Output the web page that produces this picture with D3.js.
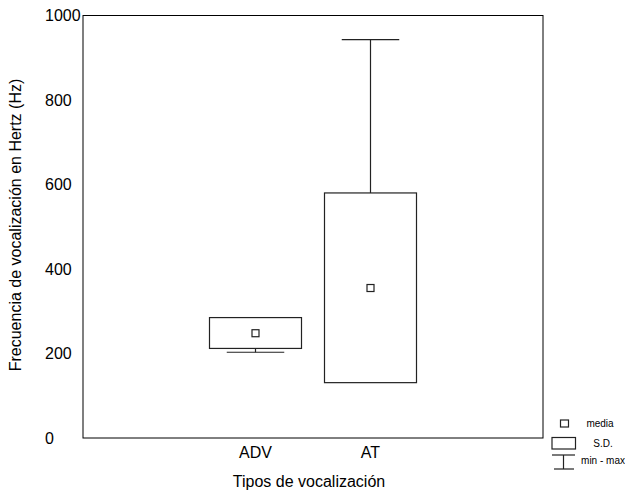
<!DOCTYPE html>
<html>
<head>
<meta charset="utf-8">
<script src="https://cdn.jsdelivr.net/npm/d3@7/dist/d3.min.js"></script>
<style>
  html, body { margin: 0; padding: 0; background: #fff; }
  svg { display: block; font-family: "Liberation Sans", Arial, sans-serif; }
</style>
</head>
<body>
<svg id="chart" width="625" height="497"></svg>
<script>
// Vocalization frequency per call type: mean, mean ± S.D. box, min/max whiskers
const categories = ["ADV", "AT"];
const means = [248, 355];
const sdLow = [212, 131];
const sdHigh = [285, 580];
const mins = [203, null];   // whisker only drawn when it reaches past the box
const maxs = [null, 943];
const yTicks = [0, 200, 400, 600, 800, 1000];

const svg = d3.select("#chart");
const plotLeft = 83, plotRight = 543, plotTop = 15.5, plotBottom = 438;

const x = d3.scalePoint().domain(categories).range([plotLeft, plotRight]).padding(1.5);
const y = d3.scaleLinear().domain([0, 1000]).range([plotBottom, plotTop]);
const step = x.step();
const boxW = step * 0.8;
const capW = step * 0.5;

// Frame
svg.append("rect")
  .attr("x", plotLeft).attr("y", plotTop)
  .attr("width", plotRight - plotLeft).attr("height", plotBottom - plotTop)
  .attr("fill", "none").attr("stroke", "#000").attr("stroke-width", 1);

// Y tick labels (left aligned, no tick marks)
svg.append("g").selectAll("text").data(yTicks).join("text")
  .attr("x", 45).attr("y", d => y(d))
  .attr("dy", "0.35em")
  .attr("font-size", 16)
  .text(d => d);

// X category labels
svg.append("g").selectAll("text").data(categories).join("text")
  .attr("x", d => x(d)).attr("y", 458)
  .attr("text-anchor", "middle")
  .attr("font-size", 16)
  .text(d => d);

// Axis titles
svg.append("text")
  .attr("x", 309).attr("y", 487)
  .attr("text-anchor", "middle").attr("font-size", 16)
  .text("Tipos de vocalización");
svg.append("text")
  .attr("transform", "translate(21,225) rotate(-90)")
  .attr("text-anchor", "middle").attr("font-size", 16)
  .text("Frecuencia de vocalización en Hertz (Hz)");

const stroke = "#222";
const groups = svg.append("g").selectAll("g").data(categories).join("g");

// Whiskers: from box edge out to the extreme value
groups.each(function(c, i) {
  const g = d3.select(this);
  const cx = x(c);
  if (maxs[i] != null && maxs[i] > sdHigh[i]) {
    g.append("line").attr("x1", cx).attr("x2", cx)
      .attr("y1", y(sdHigh[i])).attr("y2", y(maxs[i]))
      .attr("stroke", stroke).attr("stroke-width", 1.2);
    g.append("line").attr("x1", cx - capW / 2).attr("x2", cx + capW / 2)
      .attr("y1", y(maxs[i])).attr("y2", y(maxs[i]))
      .attr("stroke", stroke).attr("stroke-width", 1.2);
  }
  if (mins[i] != null && mins[i] < sdLow[i]) {
    g.append("line").attr("x1", cx).attr("x2", cx)
      .attr("y1", y(sdLow[i])).attr("y2", y(mins[i]))
      .attr("stroke", stroke).attr("stroke-width", 1.2);
    g.append("line").attr("x1", cx - capW / 2).attr("x2", cx + capW / 2)
      .attr("y1", y(mins[i])).attr("y2", y(mins[i]))
      .attr("stroke", stroke).attr("stroke-width", 1.2);
  }
  // S.D. box
  g.append("rect")
    .attr("x", cx - boxW / 2).attr("y", y(sdHigh[i]))
    .attr("width", boxW).attr("height", y(sdLow[i]) - y(sdHigh[i]))
    .attr("fill", "none").attr("stroke", stroke).attr("stroke-width", 1.2);
  // Mean marker
  g.append("rect")
    .attr("x", cx - 3.5).attr("y", y(means[i]) - 3.5)
    .attr("width", 7).attr("height", 7)
    .attr("fill", "#fff").attr("stroke", stroke).attr("stroke-width", 1.2);
});

// Legend
const lg = svg.append("g").attr("font-size", 10);
lg.append("rect").attr("x", 560.5).attr("y", 420).attr("width", 8).attr("height", 7)
  .attr("fill", "none").attr("stroke", stroke).attr("stroke-width", 1.2);
lg.append("text").attr("x", 600).attr("y", 423.5).attr("dy", "0.35em")
  .attr("text-anchor", "middle").text("media");
lg.append("rect").attr("x", 552).attr("y", 437.5).attr("width", 23.5).attr("height", 11.5)
  .attr("fill", "none").attr("stroke", stroke).attr("stroke-width", 1.2);
lg.append("text").attr("x", 603).attr("y", 443).attr("dy", "0.35em")
  .attr("text-anchor", "middle").text("S.D.");
lg.append("line").attr("x1", 552).attr("x2", 575).attr("y1", 455).attr("y2", 455)
  .attr("stroke", stroke).attr("stroke-width", 1.2);
lg.append("line").attr("x1", 563.5).attr("x2", 563.5).attr("y1", 455).attr("y2", 469)
  .attr("stroke", stroke).attr("stroke-width", 1.2);
lg.append("line").attr("x1", 554).attr("x2", 574).attr("y1", 469).attr("y2", 469)
  .attr("stroke", stroke).attr("stroke-width", 1.2);
lg.append("text").attr("x", 603).attr("y", 460).attr("dy", "0.35em")
  .attr("text-anchor", "middle").text("min - max");
</script>
</body>
</html>
